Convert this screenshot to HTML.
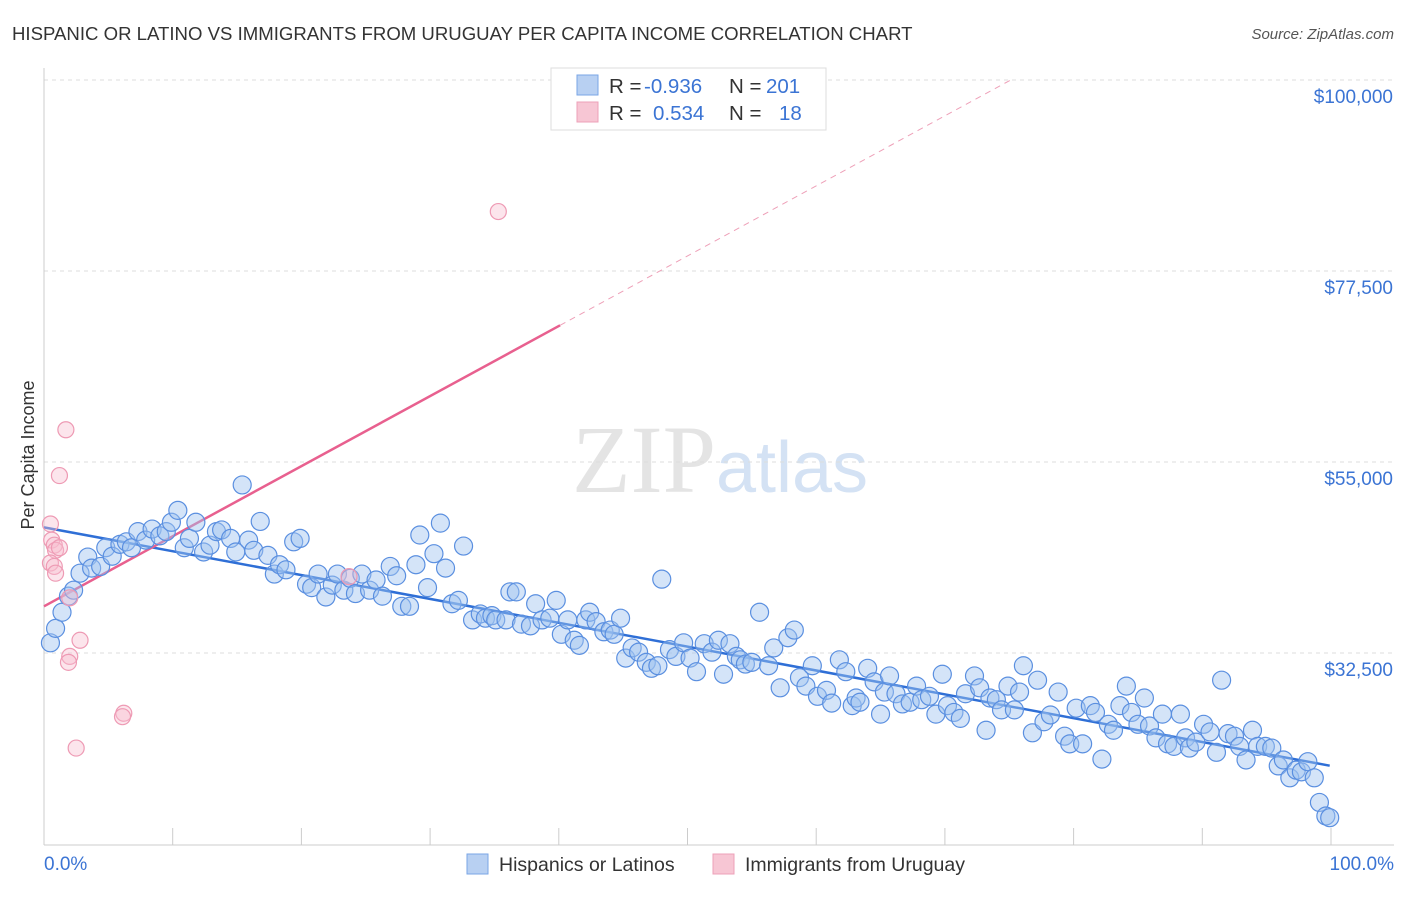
<!DOCTYPE html>
<html><head><meta charset="utf-8"><style>
body{margin:0;background:#fff;font-family:"Liberation Sans",sans-serif}
svg text{font-family:"Liberation Sans",sans-serif}
</style></head><body>
<svg id="chart" width="1406" height="892">
<text x="12" y="40" font-size="18.6" fill="#333">HISPANIC OR LATINO VS IMMIGRANTS FROM URUGUAY PER CAPITA INCOME CORRELATION CHART</text>
<text x="1394" y="39" font-size="15" fill="#555" font-style="italic" text-anchor="end">Source: ZipAtlas.com</text>
<text x="720" y="492" font-size="96" fill="#e4e4e4" text-anchor="middle" font-family="Liberation Serif"><tspan font-family="Liberation Serif">ZIP</tspan><tspan fill="#d4e2f4" font-family="Liberation Sans" font-size="72">atlas</tspan></text>
<text transform="translate(34,455) rotate(-90)" font-size="18" fill="#333" text-anchor="middle">Per Capita Income</text>
<g id="grid"></g><g id="axes"></g><g id="trend"></g><g id="pts"></g>
<g>
<rect x="551" y="68" width="275" height="62" fill="#fff" stroke="#ddd"/>
<rect x="577" y="75" width="21" height="20" fill="#b8d0f2" stroke="#7aa6e6"/>
<rect x="577" y="102" width="21" height="20" fill="#f7c6d4" stroke="#eea0b8"/>
<text x="609" y="93" font-size="20.5" fill="#333">R = <tspan fill="#3b74d4" x="644">-0.936</tspan></text>
<text x="729" y="93" font-size="20.5" fill="#333">N = <tspan fill="#3b74d4" x="766">201</tspan></text>
<text x="609" y="120" font-size="20.5" fill="#333">R = <tspan fill="#3b74d4" x="653">0.534</tspan></text>
<text x="729" y="120" font-size="20.5" fill="#333">N = <tspan fill="#3b74d4" x="779">18</tspan></text>
</g>
<g>
<rect x="467" y="854" width="21" height="20" fill="#b8d0f2" stroke="#7aa6e6"/>
<text x="499" y="871" font-size="19.5" fill="#333">Hispanics or Latinos</text>
<rect x="713" y="854" width="21" height="20" fill="#f7c6d4" stroke="#eea0b8"/>
<text x="745" y="871" font-size="19.5" fill="#333">Immigrants from Uruguay</text>
</g>
</svg>
<script>
const yTicks=[100000,77500,55000,32500];
const yTickLabels=["$100,000","$77,500","$55,000","$32,500"];
const xTickLabels=["0.0%","100.0%"];
const blueX=[0.5,0.9,1.4,1.9,2.3,2.8,3.4,3.7,4.4,4.8,5.3,5.9,6.4,6.8,7.3,7.9,8.4,9.0,9.5,9.9,10.4,10.9,11.3,11.8,12.4,12.9,13.4,13.8,14.5,14.9,15.4,15.9,16.3,16.8,17.4,17.9,18.3,18.8,19.4,19.9,20.4,20.8,21.3,21.9,22.4,22.8,23.3,23.8,24.2,24.7,25.3,25.8,26.3,26.9,27.4,27.8,28.4,28.9,29.2,29.8,30.3,30.8,31.2,31.7,32.2,32.6,33.3,33.9,34.3,34.8,35.1,35.9,36.2,36.7,37.1,37.8,38.2,38.7,39.3,39.8,40.2,40.7,41.2,41.6,42.1,42.4,42.9,43.5,44.0,44.3,44.8,45.2,45.7,46.2,46.8,47.2,47.7,48.0,48.6,49.1,49.7,50.2,50.7,51.3,51.9,52.4,52.8,53.3,53.8,54.1,54.5,55.0,55.6,56.3,56.7,57.2,57.8,58.3,58.7,59.2,59.7,60.1,60.8,61.2,61.8,62.3,62.8,63.1,63.4,64.0,64.5,65.0,65.3,65.7,66.2,66.7,67.3,67.8,68.2,68.8,69.3,69.8,70.2,70.7,71.2,71.6,72.3,72.7,73.2,73.5,74.0,74.4,74.9,75.4,75.8,76.1,76.8,77.2,77.7,78.2,78.8,79.3,79.7,80.2,80.7,81.3,81.7,82.2,82.7,83.1,83.6,84.1,84.5,85.0,85.5,85.9,86.4,86.9,87.3,87.8,88.3,88.7,89.0,89.5,90.1,90.6,91.1,91.5,92.0,92.5,92.9,93.4,93.9,94.3,94.9,95.4,95.9,96.3,96.8,97.3,97.7,98.2,98.7,99.1,99.6,99.9];
const blueY=[33.7,35.4,37.3,39.2,39.9,41.9,43.8,42.5,42.7,44.9,43.9,45.3,45.6,44.9,46.8,45.8,47.1,46.3,46.8,47.9,49.3,44.9,46.0,47.9,44.4,45.2,46.8,47.0,46.0,44.4,52.3,45.8,44.6,48.0,44.0,41.8,42.9,42.3,45.6,46.0,40.6,40.2,41.8,39.1,40.5,41.8,39.9,41.3,39.5,41.8,39.9,41.1,39.2,42.7,41.6,38.0,38.0,42.9,46.4,40.2,44.2,47.8,42.5,38.3,38.7,45.1,36.4,37.1,36.6,36.9,36.4,36.4,39.7,39.7,35.9,35.7,38.3,36.4,36.6,38.7,34.7,36.4,34.0,33.4,36.4,37.3,36.2,35.0,35.2,34.7,36.6,31.9,33.1,32.6,31.4,30.7,31.0,41.2,32.9,32.1,33.7,31.9,30.3,33.6,32.6,34.0,30.0,33.6,32.1,31.7,31.2,31.4,37.3,31.0,33.1,28.4,34.3,35.2,29.6,28.6,31.0,27.4,28.1,26.6,31.7,30.3,26.3,27.2,26.7,30.7,29.1,25.3,27.9,29.8,27.7,26.5,26.7,28.6,27.0,27.4,25.3,30.0,26.3,25.5,24.8,27.7,29.8,28.4,23.4,27.2,27.0,25.8,28.6,25.8,27.9,31.0,23.1,29.3,24.4,25.2,27.9,22.7,21.8,26.0,21.8,26.3,25.5,20.0,24.1,23.4,26.3,28.6,25.5,24.1,27.2,23.9,22.5,25.3,21.8,21.5,25.3,22.5,21.3,22.0,24.1,23.2,20.8,29.3,23.0,22.7,21.5,19.9,23.4,21.5,21.5,21.3,19.2,19.9,17.8,18.7,18.5,19.7,17.8,14.9,13.3,13.1];
const pinkX=[0.5,0.6,0.8,0.9,0.5,0.8,1.2,0.9,2.0,1.7,1.2,2.8,2.0,1.9,6.2,6.1,2.5,23.7,35.3];
const pinkY=[47.7,45.8,45.2,44.6,43.1,42.7,44.9,41.9,39.0,58.8,53.4,34.0,32.1,31.4,25.4,25.0,21.3,41.5,84.5];
const blueTrend=[47.3,19.2];
const pinkTrend=[38.0,71.1,40.1];
const NS="http://www.w3.org/2000/svg";
const X=p=>44+p*12.87;
const Yk=k=>80+(100-k)*8.489;
function mk(tag,attrs,parent){const e=document.createElementNS(NS,tag);for(const k in attrs)e.setAttribute(k,attrs[k]);document.getElementById(parent).appendChild(e);return e;}
yTicks.forEach((t,i)=>{
 const y=Yk(t/1000);
 const l=mk('line',{x1:44,x2:1394,y1:y,y2:y,stroke:'#ddd','stroke-dasharray':'4,4'},'grid');
 
 
 const tx=mk('text',{x:1393,y:y+23,'font-size':19,fill:'#3b74d4','text-anchor':'end'},'axes');
 tx.textContent=yTickLabels[i];
 
 
});
const ax=mk('line',{x1:44,x2:1394,y1:845,y2:845,stroke:'#ccc'},'axes');


const ay=mk('line',{x1:44,x2:44,y1:68,y2:845,stroke:'#ccc'},'axes');


for(let i=1;i<=10;i++){const t=mk('line',{x1:X(i*10),x2:X(i*10),y1:828,y2:845,stroke:'#ccc'},'axes');
 
 }
[[44,'start'],[1394,'end']].forEach((a,i)=>{const t=mk('text',{x:a[0],y:870,'font-size':19,fill:'#3b74d4','text-anchor':a[1]},'axes');t.textContent=xTickLabels[i];
 
 });
blueX.forEach((x,i)=>{const c=mk('circle',{cx:X(x),cy:Yk(blueY[i]),r:9,fill:'rgba(160,195,240,0.45)',stroke:'#5a8fe0','stroke-width':1.2},'pts');
 
 });
pinkX.forEach((x,i)=>{const c=mk('circle',{cx:X(x),cy:Yk(pinkY[i]),r:8,fill:'rgba(247,190,208,0.4)',stroke:'#ee9ab4','stroke-width':1.2},'pts');
 
 });
const bl=mk('line',{x1:X(0),y1:Yk(blueTrend[0]),x2:X(99.9),y2:Yk(blueTrend[0]+(blueTrend[1]-blueTrend[0])*0.999),stroke:'#2f6fd6','stroke-width':2.5},'trend');


const slope=(pinkTrend[1]-pinkTrend[0])/pinkTrend[2];
const pl=mk('line',{x1:X(0),y1:Yk(pinkTrend[0]),x2:X(pinkTrend[2]),y2:Yk(pinkTrend[1]),stroke:'#e8608f','stroke-width':2.5},'trend');


const xe=(100-pinkTrend[0])/slope;
const pd=mk('line',{x1:X(pinkTrend[2]),y1:Yk(pinkTrend[1]),x2:X(xe),y2:Yk(100),stroke:'#eea0b8','stroke-width':1,'stroke-dasharray':'6,5'},'trend');


</script>
</body></html>
